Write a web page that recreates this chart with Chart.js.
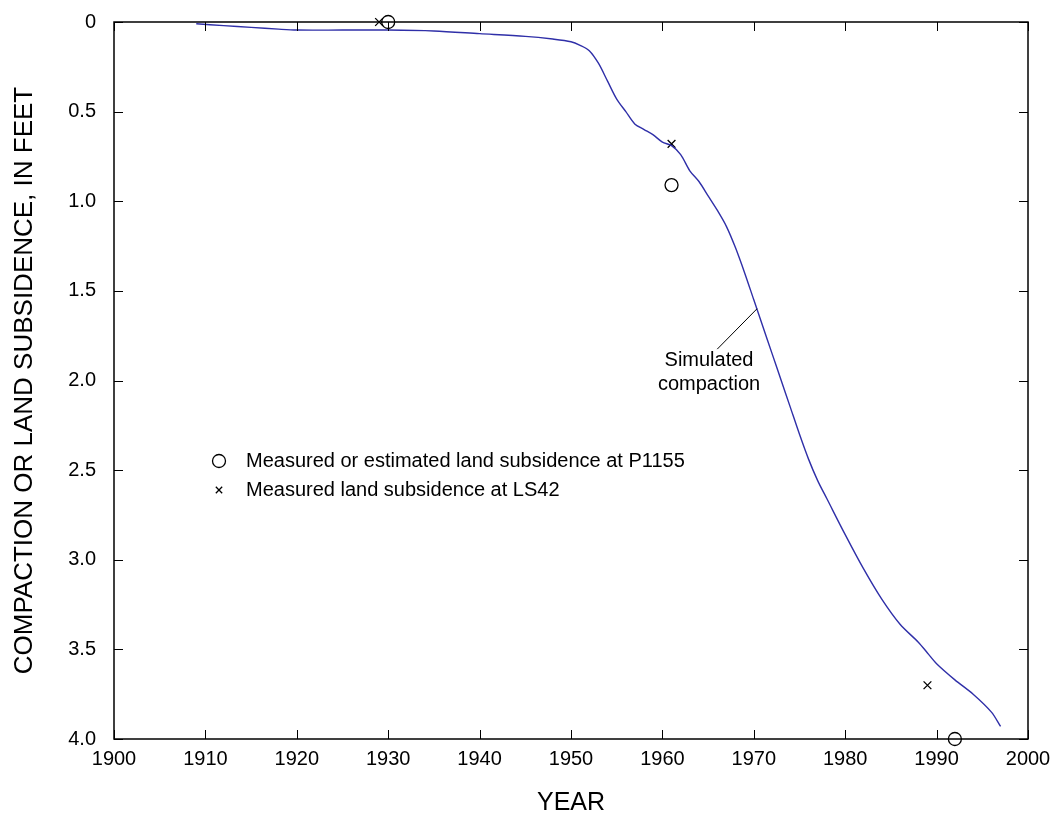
<!DOCTYPE html>
<html>
<head>
<meta charset="utf-8">
<title>Compaction or land subsidence</title>
<script src="https://cdn.jsdelivr.net/npm/chart.js@4.4.1/dist/chart.umd.min.js"></script>
<style>
  html, body { margin: 0; padding: 0; background: #fff; }
  #wrap { width: 1057px; height: 816px; position: relative; }
</style>
</head>
<body>
<div id="wrap"><canvas id="subsidenceChart"></canvas></div>
<script>
// simulated compaction curve (year, feet)
const simYears = [1909, 1912, 1915, 1918, 1920, 1925, 1930, 1935, 1940, 1945, 1948, 1950,
  1951, 1952, 1953, 1954, 1955, 1956, 1957, 1958, 1959, 1960, 1961, 1962, 1963, 1964,
  1965, 1966, 1967, 1968, 1969, 1970, 1971, 1972, 1973, 1974, 1975, 1976, 1977, 1978,
  1980, 1982, 1984, 1986, 1988, 1989, 1990, 1992, 1994, 1996, 1997];
const simFeet = [0.01, 0.02, 0.03, 0.04, 0.045, 0.045, 0.045, 0.05, 0.065, 0.08, 0.095, 0.11,
  0.13, 0.16, 0.23, 0.33, 0.43, 0.50, 0.57, 0.60, 0.63, 0.67, 0.69, 0.74, 0.83, 0.89,
  0.97, 1.05, 1.14, 1.26, 1.40, 1.55, 1.70, 1.85, 2.00, 2.15, 2.30, 2.44, 2.56, 2.66,
  2.86, 3.05, 3.22, 3.36, 3.46, 3.52, 3.58, 3.67, 3.75, 3.85, 3.93];

// measured points
const p1155Years = [1930, 1961, 1992];
const p1155Feet = [0, 0.91, 4.0];
const ls42Years = [1929, 1961, 1989];
const ls42Feet = [0, 0.68, 3.70];

const yTickLabels = ["0", "0.5", "1.0", "1.5", "2.0", "2.5", "3.0", "3.5", "4.0"];

const FONT = "'Liberation Sans', Arial, Helvetica, sans-serif";

function toPoints(xs, ys) {
    return xs.map((x, i) => ({ x: x, y: ys[i] }));
}

// frame, inside ticks on all four sides, legend and callout
const framePlugin = {
    id: "frame",
    afterDraw(chart) {
        const { ctx, chartArea: a, scales: { x, y } } = chart;
        const len = 9;
        ctx.save();
        ctx.strokeStyle = "#000";
        ctx.lineWidth = 1;
        x.ticks.forEach(t => {
            const px = Math.round(x.getPixelForValue(t.value)) + 0.5;
            ctx.beginPath();
            ctx.moveTo(px, a.bottom); ctx.lineTo(px, a.bottom - len);
            ctx.moveTo(px, a.top); ctx.lineTo(px, a.top + len);
            ctx.stroke();
        });
        y.ticks.forEach(t => {
            const py = Math.round(y.getPixelForValue(t.value)) + 0.5;
            ctx.beginPath();
            ctx.moveTo(a.left, py); ctx.lineTo(a.left + len, py);
            ctx.moveTo(a.right, py); ctx.lineTo(a.right - len, py);
            ctx.stroke();
        });
        ctx.lineWidth = 1.5;
        ctx.strokeRect(a.left, a.top, a.right - a.left, a.bottom - a.top);

        // legend
        ctx.font = "20px " + FONT;
        ctx.textBaseline = "middle";
        [1, 2].forEach((di, k) => {
            const ds = chart.data.datasets[di];
            const ly = 461 + k * 29;
            ctx.fillStyle = "rgba(0,0,0,0)";
            ctx.lineWidth = 1.3;
            Chart.helpers.drawPoint(ctx, {
                pointStyle: ds.pointStyle,
                radius: di === 1 ? 6.5 : 4.5,
                borderWidth: 1.3
            }, 219, ly);
            ctx.fillStyle = "#000";
            ctx.fillText(ds.label, 246, ly);
        });

        // callout for simulated curve
        ctx.lineWidth = 1;
        ctx.beginPath();
        ctx.moveTo(x.getPixelForValue(1966.0), y.getPixelForValue(1.825));
        ctx.lineTo(x.getPixelForValue(1970.35), y.getPixelForValue(1.60));
        ctx.stroke();
        ctx.textAlign = "center";
        ctx.fillText("Simulated", x.getPixelForValue(1965.1), y.getPixelForValue(1.886));
        ctx.fillText("compaction", x.getPixelForValue(1965.1), y.getPixelForValue(2.02));
        ctx.restore();
    }
};

const ctx = document.getElementById("subsidenceChart").getContext("2d");

new Chart(ctx, {
    type: "scatter",
    data: {
        datasets: [
            {
                label: "Simulated compaction",
                data: toPoints(simYears, simFeet),
                showLine: true,
                borderColor: "#2f2fa8",
                borderWidth: 1.4,
                pointRadius: 0,
                tension: 0.3,
                fill: false
            },
            {
                label: "Measured or estimated land subsidence at P1155",
                data: toPoints(p1155Years, p1155Feet),
                pointStyle: "circle",
                pointRadius: 6.5,
                pointBorderWidth: 1.3,
                pointBorderColor: "#000",
                pointBackgroundColor: "rgba(0,0,0,0)",
                borderColor: "#000",
                clip: false
            },
            {
                label: "Measured land subsidence at LS42",
                data: toPoints(ls42Years, ls42Feet),
                pointStyle: "crossRot",
                pointRadius: 5.5,
                pointBorderWidth: 1.3,
                pointBorderColor: "#000",
                borderColor: "#000",
                clip: false
            }
        ]
    },
    options: {
        responsive: true,
        maintainAspectRatio: false,
        animation: false,
        layout: { padding: { top: 18, right: 29, left: 0, bottom: 0 } },
        plugins: {
            legend: { display: false },
            tooltip: { enabled: false }
        },
        scales: {
            x: {
                type: "linear",
                min: 1900,
                max: 2000,
                afterFit: s => { s.height = 77; },
                grid: { display: false },
                border: { display: false },
                ticks: {
                    stepSize: 10,
                    padding: 0,
                    color: "#000",
                    font: { family: FONT, size: 20 },
                    callback: v => String(v)
                },
                title: {
                    display: true,
                    text: "YEAR",
                    color: "#000",
                    font: { family: FONT, size: 25, lineHeight: 1 },
                    padding: { top: 0, bottom: 0 }
                }
            },
            y: {
                type: "linear",
                reverse: true,
                min: 0,
                max: 4,
                afterFit: s => { s.width = 114; },
                grid: { display: false },
                border: { display: false },
                ticks: {
                    stepSize: 0.5,
                    padding: 10,
                    color: "#000",
                    font: { family: FONT, size: 20 },
                    callback: v => yTickLabels[Math.round(v * 2)]
                },
                title: {
                    display: true,
                    text: "COMPACTION OR LAND SUBSIDENCE, IN FEET",
                    color: "#000",
                    font: { family: FONT, size: 26, lineHeight: 1 },
                    padding: { top: 12, bottom: 0 }
                }
            }
        }
    },
    plugins: [framePlugin]
});
</script>
</body>
</html>
